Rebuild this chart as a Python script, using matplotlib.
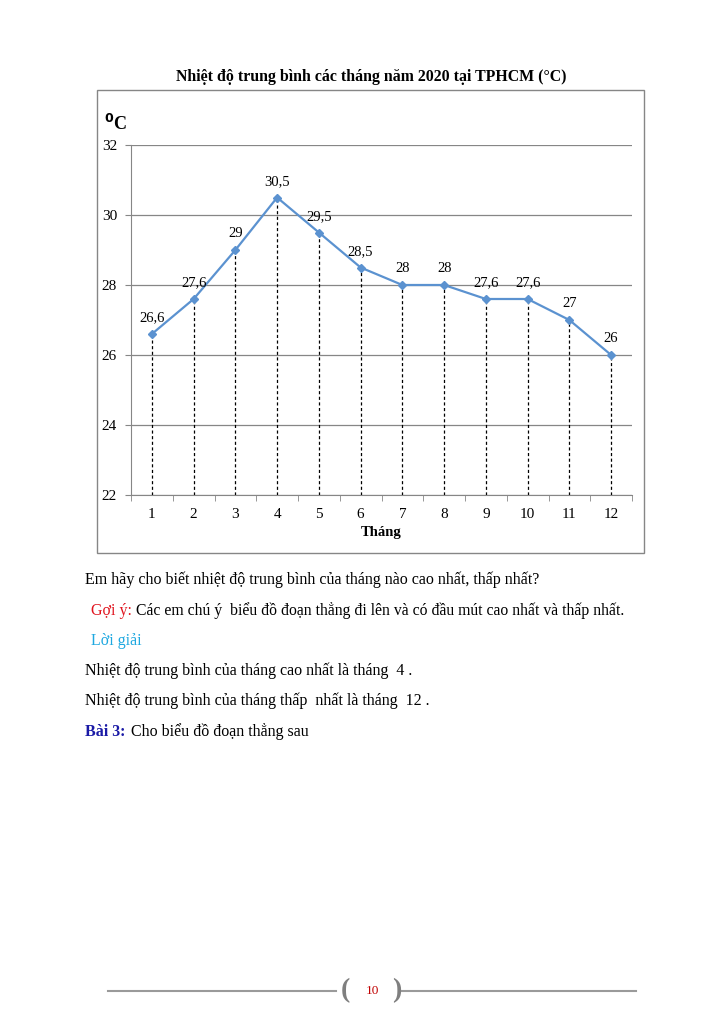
import matplotlib.pyplot as plt
from matplotlib.patches import Rectangle

months = [1, 2, 3, 4, 5, 6, 7, 8, 9, 10, 11, 12]
temps = [26.6, 27.6, 29, 30.5, 29.5, 28.5, 28, 28, 27.6, 27.6, 27, 26]
labels = ["26,6", "27,6", "29", "30,5", "29,5", "28,5", "28", "28", "27,6", "27,6", "27", "26"]
y_ticks = [22, 24, 26, 28, 30, 32]

plt.rcParams['font.family'] = ['Liberation Serif', 'DejaVu Serif']

fig = plt.figure(figsize=(7.25, 10.24), dpi=100)

# frame around the chart
fig.patches.append(Rectangle((97 / 725, 1 - 553 / 1024), (644 - 97) / 725, (553 - 90) / 1024,
                             transform=fig.transFigure, fill=False, edgecolor='#868686', lw=1))

ax = fig.add_axes([131 / 725, 1 - 495 / 1024, (632 - 131) / 725, (495 - 145) / 1024])
ax.set_xlim(0.5, 12.5)
ax.set_ylim(22, 32)
ax.set_yticks(y_ticks)
ax.yaxis.grid(True, color='#868686', lw=0.9)
ax.set_axisbelow(True)
for s in ['top', 'right']:
    ax.spines[s].set_visible(False)
for s in ['left', 'bottom']:
    ax.spines[s].set_color('#868686')
ax.tick_params(axis='y', colors='#868686', labelcolor='black', labelsize=11, length=4, pad=6)
ax.set_xticks(range(1, 13))
ax.set_xticks([m + 0.5 for m in range(0, 13)], minor=True)
ax.tick_params(axis='x', which='major', length=0, labelsize=11, pad=9)
ax.tick_params(axis='x', which='minor', length=4, color='#868686')

ax.vlines(months, 22, temps, colors='black', linestyles=(0, (2.5, 2)), lw=0.9)
ax.plot(months, temps, color='#5b92d0', lw=1.6, marker='D', ms=4, zorder=3)
for m, t, lab in zip(months, temps, labels):
    ax.annotate(lab, (m, t), xytext=(0, 7), textcoords='offset points',
                ha='center', va='bottom', fontsize=10.5)
ax.set_xlabel('Tháng', fontweight='bold', fontsize=10.5, labelpad=4)

fig.text(371 / 725, 1 - 77 / 1024, 'Nhiệt độ trung bình các tháng năm 2020 tại TPHCM (°C)',
         ha='center', va='center', fontweight='bold', fontsize=11.4)
fig.text(104 / 725, 1 - 124 / 1024, '$^{\\mathbf{0}}$C', ha='left', va='center',
         fontweight='bold', fontsize=13)

# text below chart
fs = 11.5
fig.text(85 / 725, 1 - 580 / 1024, 'Em hãy cho biết nhiệt độ trung bình của tháng nào cao nhất, thấp nhất?',
         ha='left', va='center', fontsize=fs)
fig.text(91 / 725, 1 - 611 / 1024, 'Gợi ý:', ha='left', va='center', fontsize=fs, color='#e0141e')
fig.text(136 / 725, 1 - 611 / 1024, 'Các em chú ý  biểu đồ đoạn thẳng đi lên và có đầu mút cao nhất và thấp nhất.',
         ha='left', va='center', fontsize=11.3)
fig.text(91 / 725, 1 - 641 / 1024, 'Lời giải', ha='left', va='center', fontsize=fs, color='#1ea8e0')
fig.text(85 / 725, 1 - 671 / 1024, 'Nhiệt độ trung bình của tháng cao nhất là tháng  4 .',
         ha='left', va='center', fontsize=fs)
fig.text(85 / 725, 1 - 701 / 1024, 'Nhiệt độ trung bình của tháng thấp  nhất là tháng  12 .',
         ha='left', va='center', fontsize=fs)
fig.text(85 / 725, 1 - 732 / 1024, 'Bài 3:', ha='left', va='center', fontsize=fs,
         fontweight='bold', color='#1a1aa6')
fig.text(131 / 725, 1 - 732 / 1024, 'Cho biểu đồ đoạn thẳng sau', ha='left', va='center', fontsize=fs)

# footer
fy = 1 - 991 / 1024
fig.add_artist(plt.Line2D([108 / 725, 336 / 725], [fy, fy], transform=fig.transFigure,
                          color='#9a9a9a', lw=1.5))
fig.add_artist(plt.Line2D([402 / 725, 636 / 725], [fy, fy], transform=fig.transFigure,
                          color='#9a9a9a', lw=1.5))
fig.text(345 / 725, fy, '(', ha='center', va='center', fontsize=20, color='#7f7f7f', fontweight='bold')
fig.text(397 / 725, fy, ')', ha='center', va='center', fontsize=20, color='#7f7f7f', fontweight='bold')
fig.text(372 / 725, fy, '10', ha='center', va='center', fontsize=9.5, color='#c00000')

fig.savefig('out.png', dpi=100)
